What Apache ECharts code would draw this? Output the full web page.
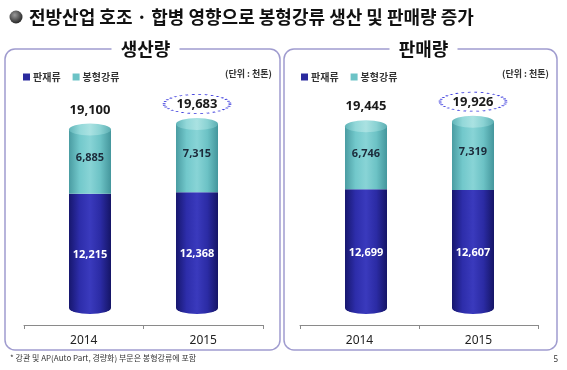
<!DOCTYPE html>
<html><head><meta charset="utf-8">
<script src="https://cdn.jsdelivr.net/npm/echarts@6/dist/echarts.min.js"></script>
<style>html,body{margin:0;padding:0;background:#fff}#c{width:567px;height:370px}</style>
</head><body><div id="c"></div>
<script>
const categories = ['2014', '2015'];
const prodPlate = [12215, 12368];
const prodBar = [6885, 7315];
const prodTotal = [19100, 19683];
const salesPlate = [12699, 12607];
const salesBar = [6746, 7319];
const salesTotal = [19445, 19926];
const highlight = [false, true];
const seriesNames = ['판재류', '봉형강류'];
const panelTitles = ['생산량', '판매량'];
const unitText = '(단위 : 천톤)';
const mainTitle = '전방산업 호조 · 합병 영향으로 봉형강류 생산 및 판매량 증가';
const footnote = '* 강관 및 AP(Auto Part, 경량화) 부문은 봉형강류에 포함';
const pageNo = '5';

const KR = '"Noto Sans CJK KR", "Noto Sans", sans-serif';
const NUM = '"Noto Sans", "DejaVu Sans", sans-serif';
const fmt = v => Number(v).toLocaleString('en-US');
const LG = (stops) => new echarts.graphic.LinearGradient(0, 0, 1, 0, stops.map((c, i) => ({offset: i / (stops.length - 1), color: c})));
const darkGrad = () => LG(['#17176e', '#2d2daa', '#3a3abd', '#2b2ba4', '#151566']);
const tealGrad = () => LG(['#4a9ca2', '#72c8cb', '#88d4d6', '#6cc2c5', '#44969c']);
const capGrad = () => LG(['#60b4b8', '#93d8d9', '#aae2e2', '#8ad2d3', '#5caeb2']);
const BW = 42;

const chart = echarts.init(document.getElementById('c'), null, {renderer: 'canvas'});

function panelSeries(plate, bar, total, gi) {
  const ax = {xAxisIndex: gi, yAxisIndex: gi};
  return [
    Object.assign({type: 'bar', name: seriesNames[0], stack: 's' + gi, data: plate, barWidth: BW,
      itemStyle: {color: darkGrad()}, z: 2,
      label: {show: true, position: 'inside', offset: [0, 4], color: '#fff', fontFamily: NUM, fontWeight: 'bold', fontSize: 11, formatter: p => fmt(p.value)}}, ax),
    Object.assign({type: 'bar', name: seriesNames[1], stack: 's' + gi, data: bar, barWidth: BW,
      itemStyle: {color: tealGrad()}, z: 2,
      label: {show: true, position: 'inside', offset: [0, -4], color: '#1c2a3a', fontFamily: NUM, fontWeight: 'bold', fontSize: 11, formatter: p => fmt(p.value)}}, ax),
    Object.assign({type: 'pictorialBar', name: 'bottom' + gi, data: plate, symbol: 'circle', symbolSize: [BW, 12],
      symbolPosition: 'start', symbolOffset: [0, '50%'], itemStyle: {color: darkGrad()}, z: 1, silent: true}, ax),
    Object.assign({type: 'pictorialBar', name: 'top' + gi, data: total, symbol: 'circle', symbolSize: [BW, 12],
      symbolPosition: 'end', symbolOffset: [0, '-50%'], itemStyle: {color: capGrad()}, z: 3, silent: true,
      label: {show: true, position: 'top', distance: 7, color: '#1a1a1a', fontFamily: NUM, fontWeight: 'bold', fontSize: 13, formatter: p => fmt(p.value)}}, ax),
    Object.assign({type: 'scatter', name: 'hl' + gi, data: total.map((v, i) => highlight[i] ? v : '-'), symbol: 'circle', symbolSize: [66, 19],
      symbolOffset: [0, -20], itemStyle: {color: 'rgba(255,255,255,0)', borderColor: '#3636dc', borderWidth: 1.5, borderType: [1.5, 2], opacity: 1}, z: 5, silent: true}, ax)
  ];
}

const barY = {top: 121, bottom: 62};
const grids = [
  Object.assign({left: 36.5, right: 316.5}, barY),
  {left: 24, right: 304, bottom: 45, top: 300},
  Object.assign({left: 312.5, right: 40.5}, barY),
  {left: 300, right: 29, bottom: 45, top: 300}
];
const xAxes = grids.map((g, i) => (i % 2 === 0) ?
  {type: 'category', gridIndex: i, data: categories, show: false} :
  {type: 'category', gridIndex: i, data: categories, axisLine: {lineStyle: {color: '#8a8a8a', width: 1}},
   axisTick: {show: true, length: 4, lineStyle: {color: '#8a8a8a'}}, axisLabel: {color: '#222', fontSize: 12, fontFamily: NUM, margin: 10}});
const yAxes = grids.map((g, i) => ({type: 'value', gridIndex: i, min: 0, max: 20000, show: false}));

const legendCommon = {icon: 'rect', itemWidth: 7, itemHeight: 7, itemGap: 12, top: 67,
  textStyle: {fontSize: 10, fontWeight: 'bold', color: '#333', fontFamily: KR, padding: [0, 0, 0, -2]},
  data: [{name: seriesNames[0], itemStyle: {color: '#2a2a9e'}}, {name: seriesNames[1], itemStyle: {color: '#6cc3c6'}}]};

const panels = [{x: 5, w: 275}, {x: 284, w: 273}];
const graphic = [];
graphic.push({type: 'circle', shape: {cx: 16, cy: 17, r: 6.5}, z: 10,
  style: {fill: new echarts.graphic.RadialGradient(0.4, 0.35, 0.7, [{offset: 0, color: '#9a9a9a'}, {offset: 1, color: '#1e1e1e'}])}});
graphic.push({type: 'text', x: 29, y: 17, z: 10, style: {text: mainTitle, font: 'bold 18px ' + KR, fill: '#111', textVerticalAlign: 'middle'}});
panels.forEach((p, i) => {
  graphic.push({type: 'rect', shape: {x: p.x, y: 49, width: p.w, height: 301, r: 10}, z: 0,
    style: {fill: 'none', stroke: '#a09ccf', lineWidth: 1.5}});
  const cx = p.x + p.w / 2 + 3;
  graphic.push({type: 'rect', shape: {x: cx - 34, y: 40, width: 68, height: 18}, z: 1, style: {fill: '#fff'}});
  graphic.push({type: 'text', x: cx, y: 49, z: 2, style: {text: panelTitles[i], font: 'bold 18px ' + KR, fill: '#111', textAlign: 'center', textVerticalAlign: 'middle'}});
  graphic.push({type: 'text', x: p.x + p.w - 8, y: 74, z: 2, style: {text: unitText, font: 'bold 9px ' + KR, fill: '#333', textAlign: 'right', textVerticalAlign: 'middle'}});
});
graphic.push({type: 'text', x: 10, y: 358, z: 2, style: {text: footnote, font: '8px ' + KR, fill: '#333', textVerticalAlign: 'middle'}});
graphic.push({type: 'text', x: 558, y: 360, z: 2, style: {text: pageNo, font: '8px ' + NUM, fill: '#333', textAlign: 'right', textVerticalAlign: 'middle'}});

chart.setOption({
  animation: false,
  backgroundColor: '#fff',
  grid: grids,
  xAxis: xAxes,
  yAxis: yAxes,
  legend: [Object.assign({left: 18}, legendCommon), Object.assign({left: 296}, legendCommon)],
  graphic: graphic,
  series: [].concat(panelSeries(prodPlate, prodBar, prodTotal, 0), panelSeries(salesPlate, salesBar, salesTotal, 2))
});
</script></body></html>
